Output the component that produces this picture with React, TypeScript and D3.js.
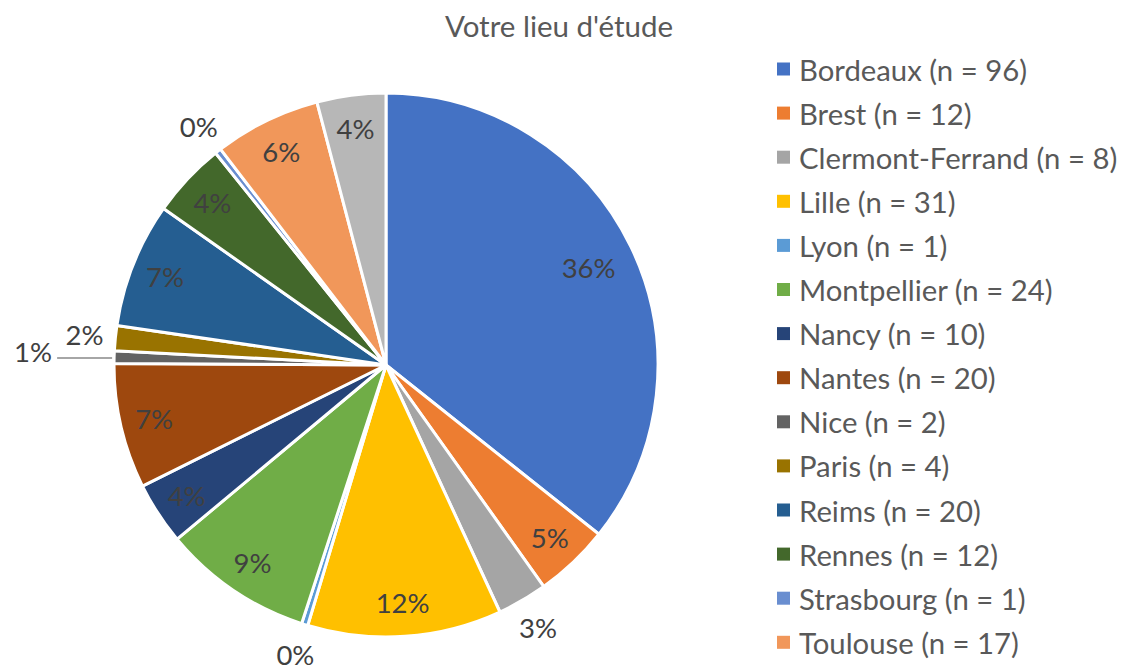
import React from "react";
import * as d3 from "d3";

const categories = [
  "Bordeaux", "Brest", "Clermont-Ferrand", "Lille", "Lyon", "Montpellier", "Nancy",
  "Nantes", "Nice", "Paris", "Reims", "Rennes", "Strasbourg", "Toulouse", "Autre",
];
const values = [96, 12, 8, 31, 1, 24, 10, 20, 2, 4, 20, 12, 1, 17, 11];
const percentLabels = ["36%", "5%", "3%", "12%", "0%", "9%", "4%", "7%", "1%", "2%", "7%", "4%", "0%", "6%", "4%"];
const legendCount = 14;
const colors = [
  "#4472C4", "#ED7D31", "#A5A5A5", "#FFC000", "#5B9BD5", "#70AD47", "#264478",
  "#9E480E", "#636363", "#997300", "#255E91", "#43682B", "#698ED0", "#F1975A", "#B7B7B7",
];
const title = "Votre lieu d'étude";

const W = 1128;
const H = 669;
const FONT = "Lato, 'Open Sans', sans-serif";

export default function App() {
  const cx = 386;
  const cy = 365;
  const R = 272;
  const data = categories.map((c, i) => ({ name: c, value: values[i], label: percentLabels[i], color: colors[i] }));
  const total = d3.sum(values);
  const pie = d3.pie<any>().value((d) => d.value).sort(null);
  const arcs = pie(data);
  const arc = d3.arc<any>().innerRadius(0).outerRadius(R);

  const labels = arcs.map((a, i) => {
    const mid = (a.startAngle + a.endAngle) / 2;
    const share = a.data.value / total;
    const outside = share < 0.033;
    const lr = outside ? 303 : share > 0.25 ? 225 : 238;
    return {
      i,
      mid,
      outside,
      x: cx + lr * Math.sin(mid),
      y: cy - lr * Math.cos(mid),
      anchor: "middle" as const,
      leader: null as null | { x1: number; y1: number; x2: number; y2: number },
    };
  });
  // resolve collisions between consecutive outside labels
  for (let i = 0; i < labels.length - 1; i++) {
    const a = labels[i];
    const b = labels[i + 1];
    if (a.outside && b.outside && Math.hypot(a.x - b.x, a.y - b.y) < 40) {
      const ey = cy - R * Math.cos(a.mid);
      const ex = cx + R * Math.sin(a.mid);
      a.leader = { x1: ex - 2, y1: ey + 1, x2: ex - 57, y2: ey + 1 };
      a.x = ex - 62;
      a.y = ey - 6;
      (a as any).anchor = "end";
    }
  }

  const legendX = 777;
  const legendY0 = 69;
  const legendStep = 44.1;

  return (
    <svg width={W} height={H} style={{ position: "absolute", left: 0, top: 0, background: "#fff" }} fontFamily={FONT}>
      <rect x={0} y={0} width={W} height={H} fill="#fff" />
      <text x={559} y={25} textAnchor="middle" dominantBaseline="central" fontSize={29.5} fill="#595959">
        {title}
      </text>
      <g transform={`translate(${cx},${cy})`}>
        {arcs.map((a, i) => (
          <path key={i} d={arc(a) as string} fill={a.data.color} stroke="#fff" strokeWidth={3} strokeLinejoin="round" />
        ))}
      </g>
      {labels.map((l) =>
        l.leader ? (
          <line key={"ld" + l.i} x1={l.leader.x1} y1={l.leader.y1} x2={l.leader.x2} y2={l.leader.y2} stroke="#A6A6A6" strokeWidth={2} />
        ) : null
      )}
      {labels.map((l) => (
        <text key={"lb" + l.i} x={l.x} y={l.y} textAnchor={l.anchor} dominantBaseline="central" fontSize={27.5} fill="#404040">
          {percentLabels[l.i]}
        </text>
      ))}
      {data.slice(0, legendCount).map((d, i) => (
        <g key={"lg" + i} transform={`translate(${legendX},${legendY0 + i * legendStep})`}>
          <rect x={0} y={-6.5} width={13} height={13} fill={d.color} />
          <text x={22} y={0} dominantBaseline="central" fontSize={29.3} fill="#595959">
            {`${d.name} (n = ${d.value})`}
          </text>
        </g>
      ))}
    </svg>
  );
}
